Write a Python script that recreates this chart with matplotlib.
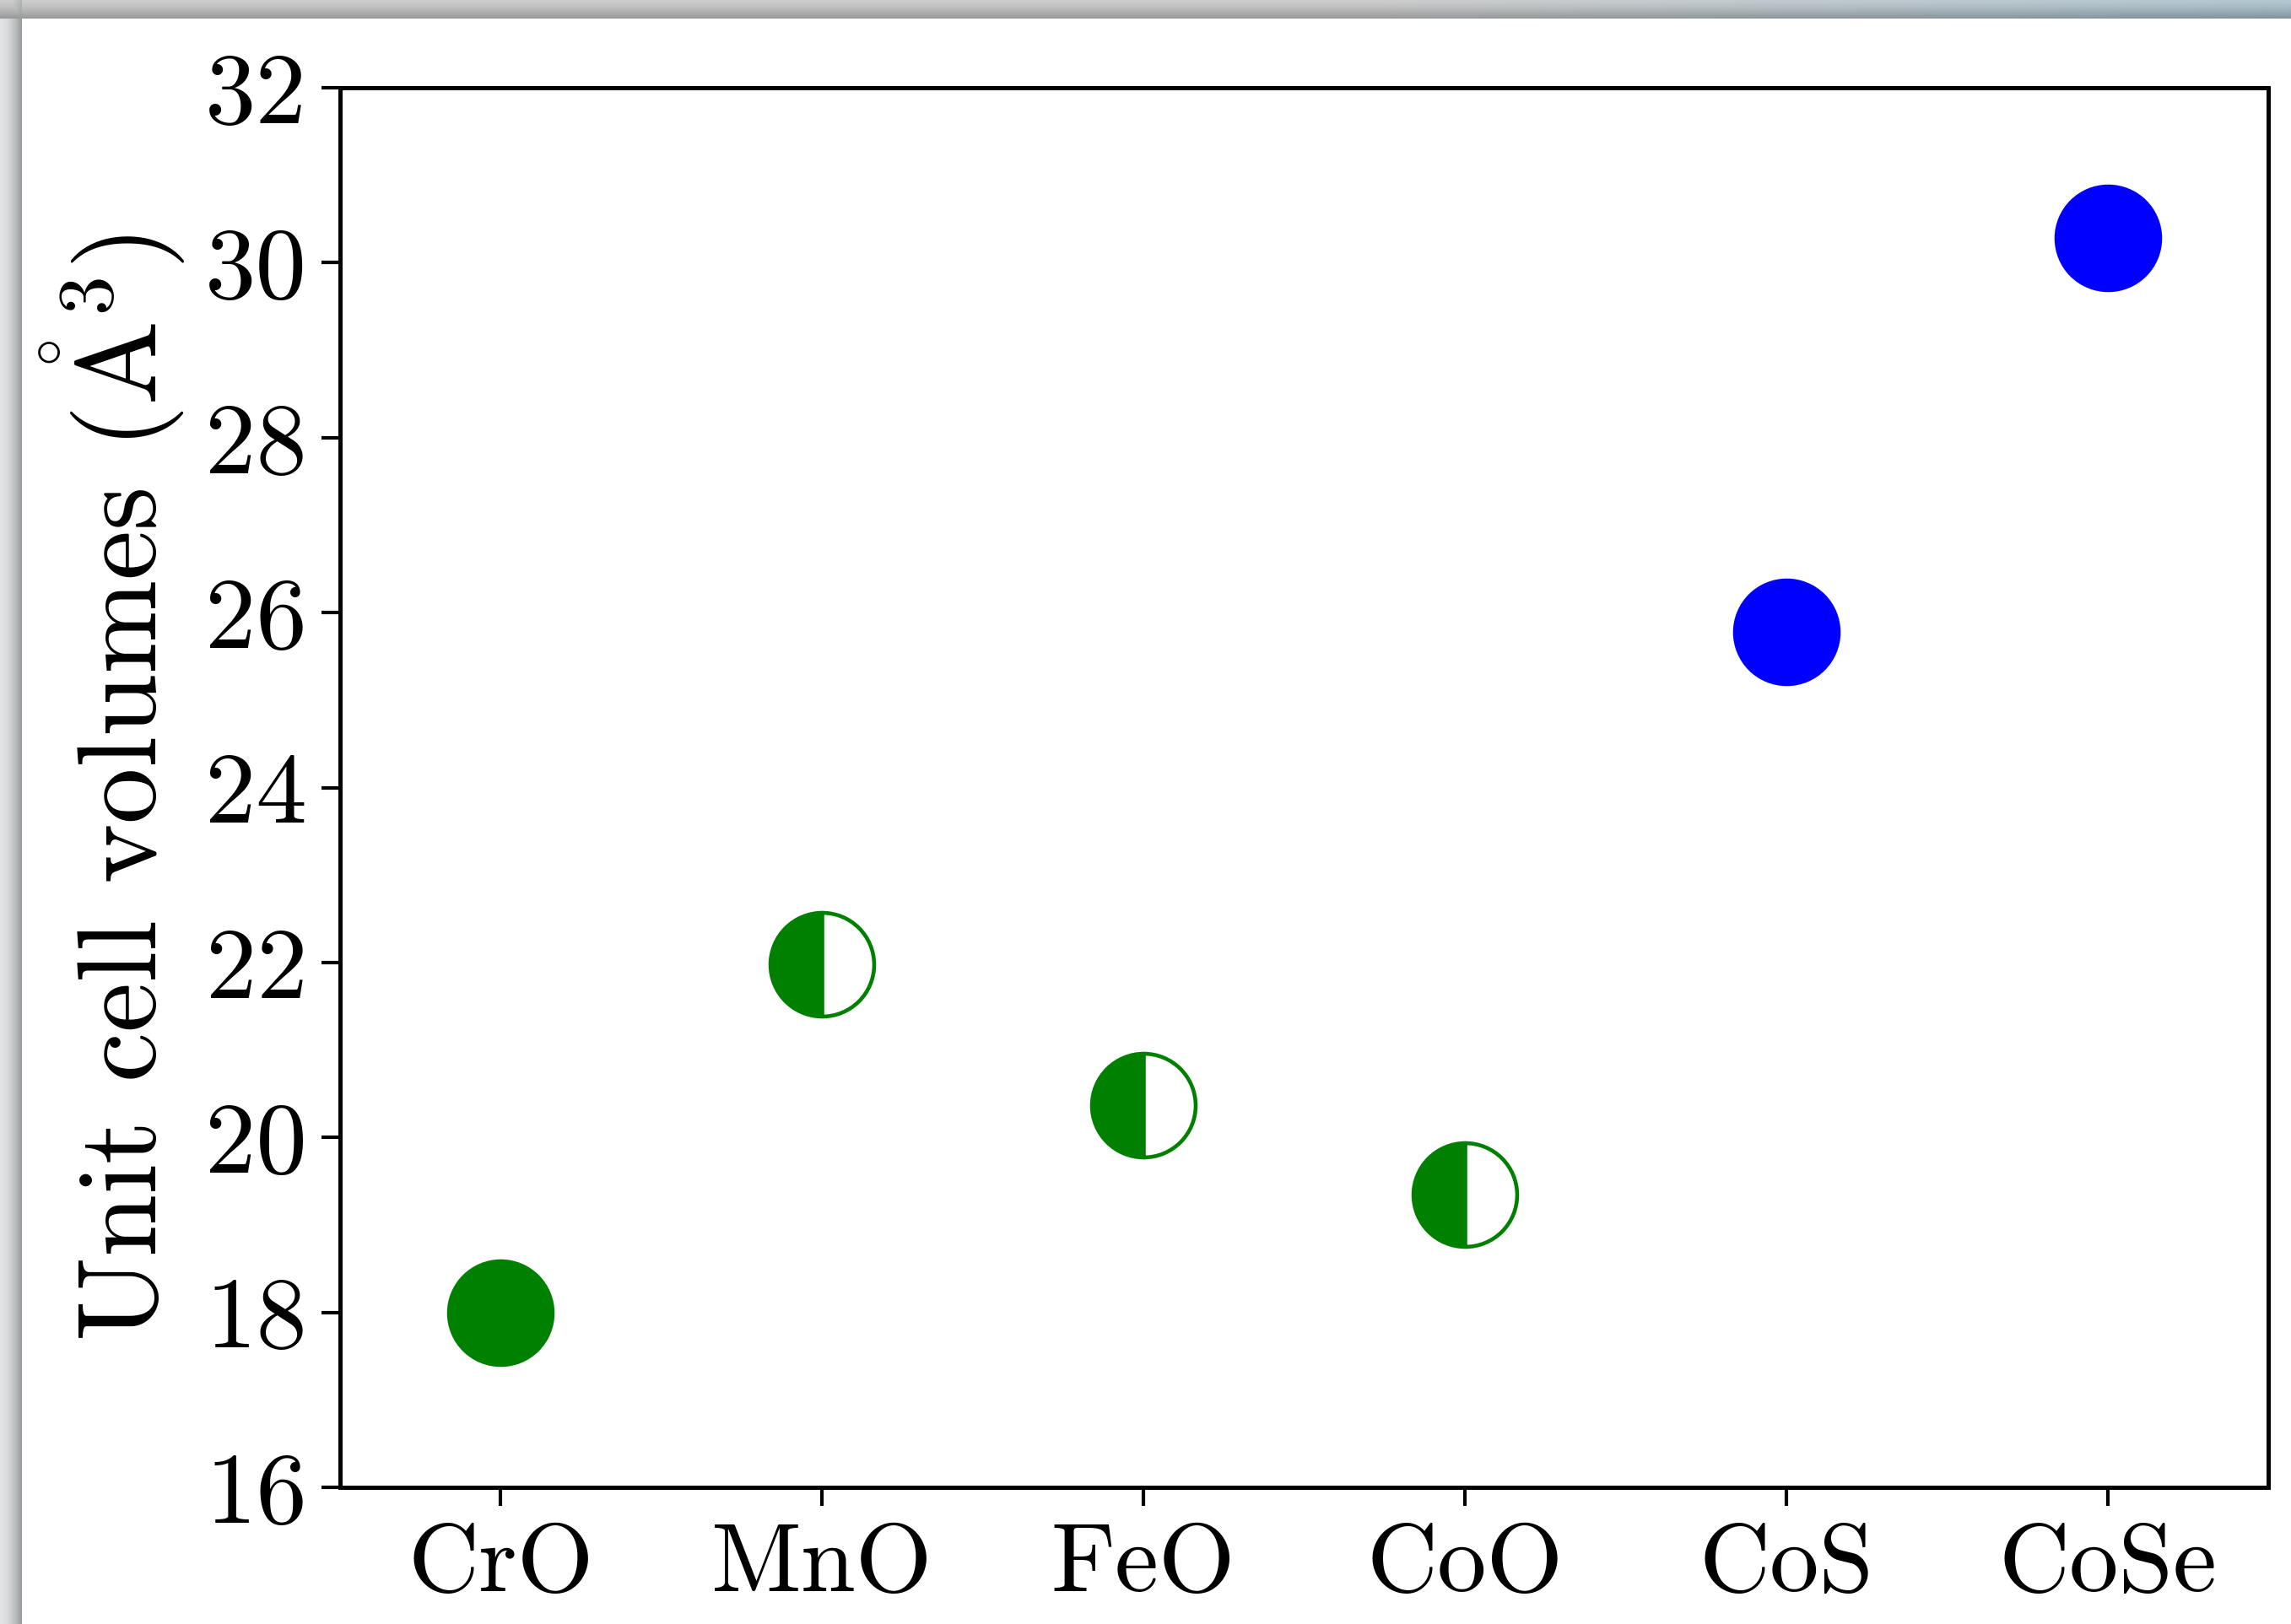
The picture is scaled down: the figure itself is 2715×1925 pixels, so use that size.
import numpy as np
import matplotlib
matplotlib.use("Agg")
import matplotlib.pyplot as plt

# Unit cell volumes of transition-metal monoxides and cobalt chalcogenides
compounds = ["CrO", "MnO", "FeO", "CoO", "CoS", "CoSe"]
volumes = [18.0, 21.98, 20.37, 19.35, 25.78, 30.28]
yticks = [16, 18, 20, 22, 24, 26, 28, 30, 32]

# marker appearance per compound
point_colors = ["green", "green", "green", "green", "blue", "blue"]
point_fills = ["full", "left", "left", "left", "full", "full"]

plt.rcParams["font.family"] = "cmr10"
plt.rcParams["mathtext.fontset"] = "cm"
plt.rcParams["axes.unicode_minus"] = False
plt.rcParams["axes.formatter.use_mathtext"] = True

W, H, DPI = 2715, 1925, 300
fig = plt.figure(figsize=(W / DPI, H / DPI), dpi=DPI)
fig.patch.set_facecolor("white")

# window-style shaded frame along the top and left edges
bg = fig.add_axes([0, 0, 1, 1], zorder=-10)
bg.set_axis_off()
img = np.ones((H, W, 3))
top_h, left_w = 22, 26
t = np.linspace(0, 1, top_h)[:, None]
top_shade = 0.80 - 0.20 * t ** 1.4
xs = np.linspace(0, 1, W)[None, :]
tint = np.clip((xs - 0.6) / 0.4, 0, 1)
top_rgb = np.stack([top_shade - 0.10 * tint,
                    top_shade - 0.02 * tint,
                    top_shade + 0.02 * tint], axis=-1)
img[:top_h, :, :] = np.clip(top_rgb, 0, 1)
s = np.linspace(0, 1, left_w)[None, :]
left_shade = 0.88 - 0.28 * s ** 1.8
left_rgb = np.stack([left_shade, left_shade + 0.01, left_shade + 0.015], axis=-1)
img[top_h:, :left_w, :] = np.clip(left_rgb, 0, 1)
corner = np.minimum(img[:top_h, :left_w, :],
                    0.5 * (img[top_h:top_h + 1, :left_w, :] + img[:top_h, left_w:left_w + 1, :]))
img[:top_h, :left_w, :] = corner
bg.imshow(img, extent=[0, 1, 0, 1], aspect="auto", interpolation="bilinear")
bg.set_xlim(0, 1)
bg.set_ylim(0, 1)

ax = fig.add_axes([403 / W, 1 - 1763 / H, (2688 - 403) / W, (1763 - 104) / H])
ax.set_facecolor("white")

x = np.arange(len(compounds))
for xi, v, c, f in zip(x, volumes, point_colors, point_fills):
    ax.plot(xi, v, linestyle="none", marker="o", markersize=29.5,
            color=c, markeredgecolor=c, markeredgewidth=1.1,
            fillstyle=f, markerfacecoloralt="white", zorder=3)

ax.set_xlim(-0.5, 5.5)
ax.set_ylim(16, 32)
ax.set_xticks(x)
ax.set_xticklabels(compounds)
ax.set_yticks(yticks)
ax.set_yticklabels([str(v) for v in yticks])

for sp in ax.spines.values():
    sp.set_linewidth(1.2)
ax.tick_params(axis="both", direction="out", length=5.3, width=1.0, pad=4)
ax.tick_params(axis="x", labelsize=28, pad=5)
ax.tick_params(axis="y", labelsize=29)
ax.set_ylabel(r"Unit cell volumes ($\mathring{\mathrm{A}}^3$)", fontsize=32, labelpad=5)

fig.savefig("out.png", dpi=DPI)
